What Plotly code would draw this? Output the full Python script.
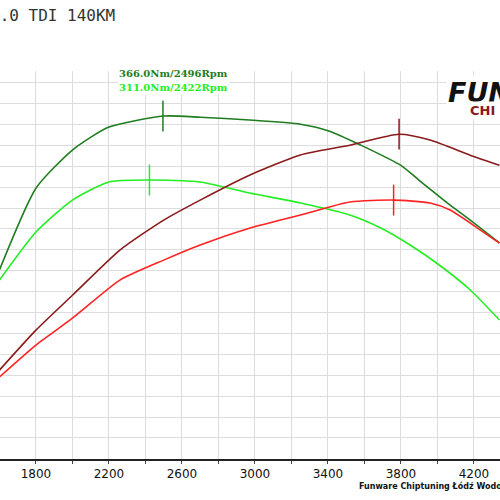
import plotly.graph_objects as go

# rpm sample points
rpm = [1600, 1800, 2000, 2200, 2500, 2700, 2970, 3250, 3410, 3580, 3800, 3900, 4070, 4180, 4340]
torque_tuned = [233.7, 304.0, 336.8, 356.5, 366.0, 365.0, 362.6, 359.0, 353.0, 341.0, 323.6, 310.8, 289.5, 276.6, 257.0]

rpm_ts = [1600, 1800, 2000, 2200, 2420, 2700, 2970, 3250, 3520, 3690, 3850, 4010, 4180, 4340]
torque_stock = [225.0, 266.3, 293.8, 309.3, 311.0, 309.3, 299.8, 291.3, 281.0, 269.8, 255.2, 238.0, 216.5, 190.7]

rpm_p = [1600, 1800, 2000, 2260, 2500, 2700, 2970, 3250, 3520, 3790, 3960, 4180, 4340]
power_tuned = [80.3, 96.7, 111.0, 129.5, 141.8, 150.0, 160.2, 168.5, 172.5, 177.0, 174.6, 168.4, 164.3]

rpm_ps = [1600, 1800, 2000, 2260, 2500, 2700, 2970, 3250, 3520, 3760, 3960, 4070, 4230, 4340]
power_stock = [77.5, 90.6, 101.6, 117.2, 125.4, 131.6, 138.5, 143.9, 149.2, 150.0, 148.8, 145.9, 138.0, 132.4]

# peaks (rpm, value)
peak_torque_tuned = (2496, 366.0)
peak_torque_stock = (2422, 311.0)
peak_power_tuned = (3790, 177.0)
peak_power_stock = (3760, 150.0)

DKGREEN, LTGREEN, DKRED, RED = "#1e7d1e", "#22ee22", "#8a1a1a", "#ff2222"

fig = go.Figure()
for xs, ys, col, ax in [(rpm, torque_tuned, DKGREEN, "y"), (rpm_ts, torque_stock, LTGREEN, "y"),
                        (rpm_p, power_tuned, DKRED, "y2"), (rpm_ps, power_stock, RED, "y2")]:
    fig.add_trace(go.Scatter(x=xs, y=ys, mode="lines", yaxis=ax,
                             line=dict(color=col, width=1.6, shape="spline", smoothing=0.6)))

for (px, py), col, ax in [(peak_torque_tuned, DKGREEN, "y"), (peak_torque_stock, LTGREEN, "y"),
                          (peak_power_tuned, DKRED, "y2"), (peak_power_stock, RED, "y2")]:
    fig.add_trace(go.Scatter(x=[px], y=[py], mode="markers", yaxis=ax,
                             marker=dict(symbol="line-ns", size=22, line=dict(color=col, width=1.5))))

ticks = list(range(1800, 4400, 200))
labels = [str(t) if (t - 1800) % 400 == 0 else "" for t in ticks]

fig.update_layout(
    width=500, height=500, showlegend=False,
    margin=dict(l=0, r=0, t=71, b=41),
    plot_bgcolor="white", paper_bgcolor="white",
    xaxis=dict(range=[1603, 4343], tickvals=ticks, ticktext=labels, showgrid=True,
               gridcolor="#dddddd", showline=True, linecolor="#222", linewidth=2,
               ticks="outside", ticklen=3, tickcolor="#444", zeroline=False,
               tickfont=dict(family="DejaVu Sans", size=12, color="#111")),
    yaxis=dict(range=[71.3, 404.7], tick0=89.4, dtick=17.96, showticklabels=False,
               gridcolor="#dddddd", zeroline=False),
    yaxis2=dict(range=[43.9, 202.9], overlaying="y", showgrid=False,
                showticklabels=False, zeroline=False),
)

def ypix(p):
    # paper y from a pixel row (plot area spans rows 71..459)
    return 1 + (71 - p) / 388

fig.add_annotation(xref="paper", yref="paper", x=117 / 500, y=ypix(15),
                   text="2.0 TDI 140KM", showarrow=False, xanchor="right", yanchor="middle",
                   font=dict(family="DejaVu Sans Mono", size=16, color="#333"))
fig.add_annotation(xref="paper", yref="paper", x=117 / 500, y=ypix(74),
                   text="<b>366.0Nm/2496Rpm</b>", showarrow=False, xanchor="left", yanchor="middle",
                   font=dict(family="DejaVu Serif", size=10, color=DKGREEN), bgcolor="white")
fig.add_annotation(xref="paper", yref="paper", x=117 / 500, y=ypix(88),
                   text="<b>311.0Nm/2422Rpm</b>", showarrow=False, xanchor="left", yanchor="middle",
                   font=dict(family="DejaVu Serif", size=10, color=LTGREEN), bgcolor="white")
fig.add_annotation(xref="paper", yref="paper", x=446 / 500, y=ypix(92),
                   text="<b><i>FUN</i></b>", showarrow=False, xanchor="left", yanchor="middle",
                   font=dict(family="DejaVu Sans", size=27, color="#111"), bgcolor="white")
fig.add_annotation(xref="paper", yref="paper", x=468 / 500, y=ypix(110),
                   text="<b>CHI</b>", showarrow=False, xanchor="left", yanchor="middle",
                   font=dict(family="DejaVu Sans", size=13, color="#8a1a1a"), bgcolor="white")
fig.add_annotation(xref="paper", yref="paper", x=357 / 500, y=ypix(486),
                   text="<b>Funware Chiptuning Łódź Wodorowa</b>", showarrow=False,
                   xanchor="left", yanchor="middle",
                   font=dict(family="DejaVu Sans", size=8, color="#111"))

fig.write_html("out.html", config={"displayModeBar": False},
               post_script="document.body.style.margin='0';")
